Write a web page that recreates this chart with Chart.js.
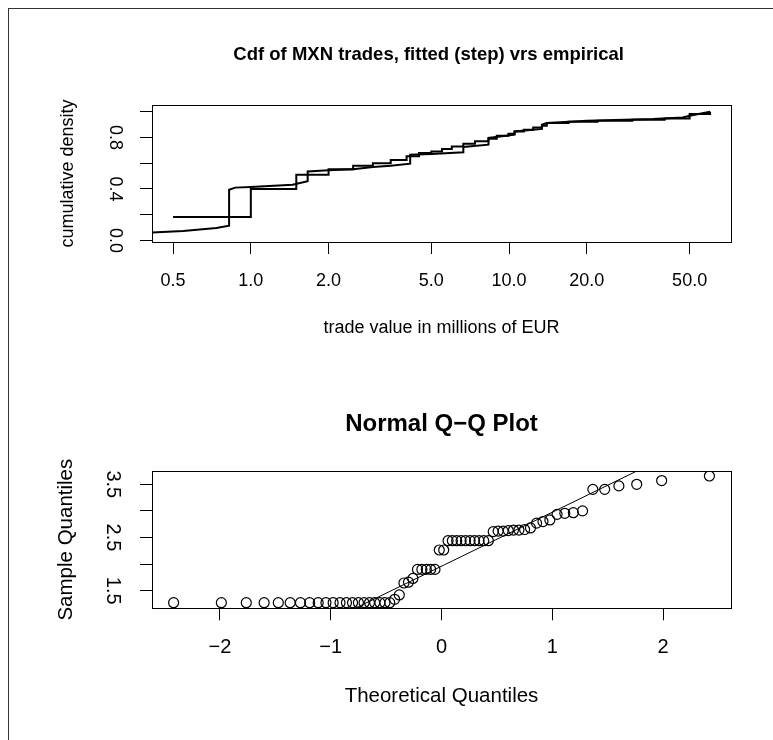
<!DOCTYPE html>
<html>
<head>
<meta charset="utf-8">
<script src="https://cdn.jsdelivr.net/npm/chart.js@4.4.1/dist/chart.umd.min.js"></script>
<style>
  html, body { margin: 0; padding: 0; background: #fff; width: 773px; height: 740px; overflow: hidden; }
  #frame { position: absolute; left: 8px; top: 8px; width: 900px; height: 900px; border-left: 1px solid #333; border-top: 1px solid #333; }
  canvas { position: absolute; left: 0; }
  #cdf { top: 0; }
  #qq { top: 370px; }
</style>
</head>
<body>
<div id="frame"></div>
<canvas id="cdf" width="773" height="370"></canvas>
<canvas id="qq" width="773" height="370"></canvas>
<script>
// top panel: fitted (step) cdf and empirical cdf, x in millions of EUR
const fittedX = [0.5, 1.0, 1.5, 2.0, 2.49, 2.97, 3.48, 4.01, 4.48, 5.0, 5.5, 6.0, 6.65, 7.38, 8.32, 8.96, 9.94, 10.5, 11.4, 12.4, 13.4, 14.0, 17.0, 22.0, 30.0, 40.0, 50.0, 60.0];
const fittedY = [0.182, 0.40, 0.51, 0.553, 0.58, 0.60, 0.625, 0.653, 0.68, 0.69, 0.71, 0.73, 0.751, 0.77, 0.79, 0.813, 0.829, 0.847, 0.86, 0.878, 0.891, 0.912, 0.922, 0.93, 0.937, 0.948, 0.982, 1.0];

const empiricalX = [0.414, 0.547, 0.736, 0.824, 0.824, 0.87, 1.0, 1.45, 1.66, 1.66, 2.0, 2.49, 2.97, 3.48, 4.14, 4.14, 5.0, 6.65, 6.65, 8.32, 8.32, 10.5, 10.5, 13.4, 13.4, 14.0, 20.0, 36.0, 47.0, 50.0, 60.0];
const empiricalY = [0.062, 0.073, 0.096, 0.114, 0.394, 0.41, 0.415, 0.432, 0.46, 0.536, 0.545, 0.553, 0.57, 0.58, 0.596, 0.666, 0.672, 0.684, 0.726, 0.744, 0.796, 0.821, 0.847, 0.866, 0.899, 0.912, 0.93, 0.943, 0.955, 0.969, 1.0];

const cdfXTicks = [0.5, 1, 2, 5, 10, 20, 50];
const cdfYTicks = [0, 0.2, 0.4, 0.6, 0.8, 1.0];
const cdfYTickLabels = ['0.0', '', '0.4', '', '0.8', ''];

// bottom panel: normal Q-Q plot
const qqTheoretical = [-2.418, -1.987, -1.762, -1.601, -1.473, -1.366, -1.273, -1.190, -1.113, -1.043, -0.978, -0.916, -0.858, -0.803, -0.750, -0.699,
  -0.650, -0.603, -0.556, -0.511, -0.467, -0.423, -0.381, -0.339, -0.298, -0.258, -0.217, -0.177, -0.137, -0.098, -0.059, -0.020,
  0.020, 0.059, 0.098, 0.137, 0.177, 0.217, 0.258, 0.298, 0.339, 0.381, 0.423, 0.467, 0.511, 0.556, 0.603, 0.650,
  0.699, 0.750, 0.803, 0.858, 0.916, 0.978, 1.043, 1.113, 1.190, 1.273, 1.366, 1.473, 1.601, 1.762, 1.987, 2.418];
const qqSample = [1.274, 1.274, 1.274, 1.274, 1.274, 1.274, 1.274, 1.274, 1.274, 1.274, 1.274, 1.274, 1.274, 1.274, 1.274, 1.274,
  1.274, 1.274, 1.274, 1.274, 1.274, 1.338, 1.42, 1.645, 1.66, 1.73, 1.90, 1.90, 1.90, 1.90, 1.90, 2.265,
  2.265, 2.44, 2.44, 2.44, 2.44, 2.44, 2.44, 2.44, 2.44, 2.44, 2.44, 2.61, 2.62, 2.62, 2.63, 2.64,
  2.64, 2.65, 2.68, 2.77, 2.80, 2.83, 2.935, 2.955, 2.966, 3.00, 3.405, 3.405, 3.47, 3.50, 3.57, 3.656];
const qqLine = { intercept: 1.96, slope: 1.015 };

const qqXTicks = [-2, -1, 0, 1, 2];
const qqXTickLabels = ['\u22122', '\u22121', '0', '1', '2'];
const qqYTicks = [1.5, 2.0, 2.5, 3.0, 3.5];
const qqYTickLabels = ['1.5', '', '2.5', '', '3.5'];

const FONT = "'Liberation Sans', Arial, sans-serif";

const plotBox = {
  id: 'plotBox',
  afterDatasetsDraw(chart) {
    const a = chart.chartArea;
    const ctx = chart.ctx;
    ctx.save();
    ctx.strokeStyle = '#000';
    ctx.lineWidth = 1;
    ctx.strokeRect(Math.round(a.left) + 0.5, Math.round(a.top) + 0.5, Math.round(a.right - a.left), Math.round(a.bottom - a.top));
    ctx.restore();
  }
};

const tickGrid = { drawOnChartArea: false, drawTicks: true, tickLength: 12, color: '#000', lineWidth: 1 };

new Chart(document.getElementById('cdf'), {
  type: 'scatter',
  data: {
    datasets: [{
      label: 'fitted (step)',
      data: fittedX.map((x, i) => ({ x: x, y: fittedY[i] })),
      showLine: true,
      stepped: true,
      borderColor: '#000',
      borderWidth: 2,
      pointRadius: 0
    }, {
      label: 'empirical',
      data: empiricalX.map((x, i) => ({ x: x, y: empiricalY[i] })),
      showLine: true,
      borderColor: '#000',
      borderWidth: 2,
      pointRadius: 0
    }]
  },
  options: {
    responsive: false,
    animation: false,
    events: [],
    layout: { padding: { left: 0, right: 42, top: 0, bottom: 0 } },
    plugins: {
      legend: { display: false },
      tooltip: { enabled: false },
      title: {
        display: true,
        fullSize: false,
        // trailing blanks nudge the centred title a little left, as in the original
        text: 'Cdf of MXN trades, fitted (step) vrs empirical     ',
        color: '#000',
        font: { family: FONT, size: 18.5, weight: 'bold' },
        padding: { top: 43.9, bottom: 38.9 }
      }
    },
    scales: {
      x: {
        type: 'logarithmic',
        position: 'bottom',
        min: 0.4144,
        max: 72.3,
        bounds: 'data',
        afterBuildTicks: s => { s.ticks = cdfXTicks.map(v => ({ value: v })); },
        afterFit: s => { s.height = 128; },
        grid: tickGrid,
        border: { display: false },
        ticks: { callback: v => v.toFixed(1), autoSkip: false, maxRotation: 0, padding: 16.7, color: '#000', font: { family: FONT, size: 18 } },
        title: { display: true, text: 'trade value in millions of EUR', color: '#000', font: { family: FONT, size: 18 }, padding: { top: 0, bottom: 31 } }
      },
      y: {
        type: 'linear',
        min: -0.0125,
        max: 1.052,
        bounds: 'data',
        afterBuildTicks: s => { s.ticks = cdfYTicks.map(v => ({ value: v })); },
        afterFit: s => { s.width = 152; },
        grid: tickGrid,
        border: { display: false },
        ticks: { callback: (v, i) => cdfYTickLabels[i], autoSkip: false, minRotation: 270, maxRotation: 270, crossAlign: 'center', padding: 12.5, color: '#000', font: { family: FONT, size: 18 } },
        title: { display: true, text: 'cumulative density', color: '#000', font: { family: FONT, size: 18 }, padding: { top: 57.2, bottom: 0 } }
      }
    }
  },
  plugins: [plotBox]
});

const qqXMin = -2.613, qqXMax = 2.613;

new Chart(document.getElementById('qq'), {
  type: 'scatter',
  data: {
    datasets: [{
      label: 'sample',
      data: qqTheoretical.map((x, i) => ({ x: x, y: qqSample[i] })),
      pointStyle: 'circle',
      pointRadius: 5,
      borderWidth: 1.2,
      borderColor: '#000',
      backgroundColor: 'rgba(0,0,0,0)'
    }, {
      label: 'qqline',
      data: [qqXMin, qqXMax].map(x => ({ x: x, y: qqLine.intercept + qqLine.slope * x })),
      showLine: true,
      borderColor: '#000',
      borderWidth: 1,
      pointRadius: 0
    }]
  },
  options: {
    responsive: false,
    animation: false,
    events: [],
    layout: { padding: { left: 0, right: 42, top: 0, bottom: 0 } },
    plugins: {
      legend: { display: false },
      tooltip: { enabled: false },
      title: {
        display: true,
        fullSize: false,
        text: 'Normal Q\u2212Q Plot',
        color: '#000',
        font: { family: FONT, size: 24, weight: 'bold' },
        padding: { top: 39.6, bottom: 32.6 }
      }
    },
    scales: {
      x: {
        type: 'linear',
        position: 'bottom',
        min: qqXMin,
        max: qqXMax,
        bounds: 'data',
        afterBuildTicks: s => { s.ticks = qqXTicks.map(v => ({ value: v })); },
        afterFit: s => { s.height = 131.7; },
        grid: tickGrid,
        border: { display: false },
        ticks: { callback: (v, i) => qqXTickLabels[i], autoSkip: false, maxRotation: 0, padding: 15.2, color: '#000', font: { family: FONT, size: 20 } },
        title: { display: true, text: 'Theoretical Quantiles', color: '#000', font: { family: FONT, size: 20.5 }, padding: { top: 0, bottom: 31.5 } }
      },
      y: {
        type: 'linear',
        min: 1.169,
        max: 3.75,
        bounds: 'data',
        afterBuildTicks: s => { s.ticks = qqYTicks.map(v => ({ value: v })); },
        afterFit: s => { s.width = 152; },
        grid: tickGrid,
        border: { display: false },
        ticks: { callback: (v, i) => qqYTickLabels[i], autoSkip: false, minRotation: 270, maxRotation: 270, crossAlign: 'center', padding: 13.6, color: '#000', font: { family: FONT, size: 20 } },
        title: { display: true, text: 'Sample Quantiles', color: '#000', font: { family: FONT, size: 20.5 }, padding: { top: 54, bottom: 0 } }
      }
    }
  },
  plugins: [plotBox]
});
</script>
</body>
</html>
